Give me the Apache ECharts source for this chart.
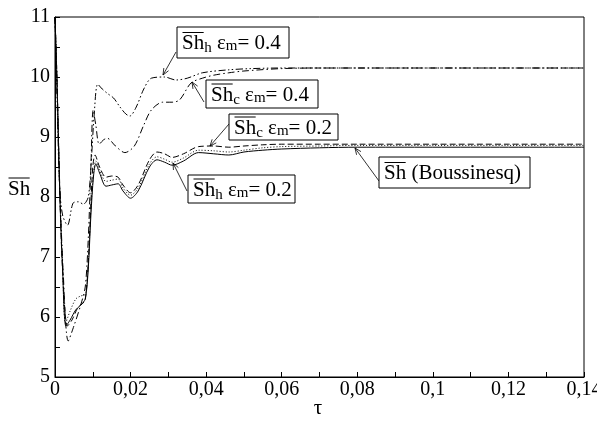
<!DOCTYPE html>
<html><head><meta charset="utf-8">
<script src="https://cdn.jsdelivr.net/npm/echarts@6/dist/echarts.min.js"></script>
<style>html,body{margin:0;padding:0;background:#fff}#c{width:597px;height:424px}</style>
</head><body><div id="c"></div>
<script>
// ---- data ----
const xTicks = [0, 0.02, 0.04, 0.06, 0.08, 0.1, 0.12, 0.14];
const yTicks = [5, 6, 7, 8, 9, 10, 11];

const tauBous = [0, 0.0005, 0.0013, 0.002, 0.0029, 0.004, 0.0055, 0.0068, 0.008, 0.0088, 0.0095, 0.0102, 0.0108, 0.0118, 0.0135, 0.015, 0.0167, 0.018, 0.02, 0.022, 0.025, 0.027, 0.029, 0.031, 0.034, 0.038, 0.042, 0.046, 0.05, 0.055, 0.06, 0.07, 0.08, 0.1, 0.12, 0.14];
const shBous  = [11.0, 10.0, 8.0, 6.8, 5.85, 5.95, 6.12, 6.2, 6.3, 6.8, 7.7, 8.35, 8.55, 8.4, 8.18, 8.2, 8.22, 8.1, 7.98, 8.1, 8.5, 8.62, 8.58, 8.53, 8.6, 8.74, 8.72, 8.7, 8.75, 8.78, 8.8, 8.82, 8.83, 8.83, 8.83, 8.83];

const tauH02 = [0, 0.0005, 0.0013, 0.002, 0.0028, 0.004, 0.0055, 0.0068, 0.008, 0.0088, 0.0095, 0.0102, 0.0108, 0.0118, 0.0135, 0.015, 0.0167, 0.018, 0.02, 0.022, 0.025, 0.027, 0.029, 0.031, 0.034, 0.038, 0.042, 0.046, 0.05, 0.055, 0.06, 0.07, 0.08, 0.1, 0.12, 0.14];
const shH02  = [11.0, 10.0, 8.0, 6.9, 5.9, 6.1, 6.3, 6.35, 6.38, 6.9, 7.8, 8.4, 8.6, 8.45, 8.26, 8.28, 8.3, 8.15, 8.03, 8.15, 8.55, 8.67, 8.63, 8.58, 8.65, 8.78, 8.77, 8.75, 8.78, 8.82, 8.84, 8.85, 8.86, 8.86, 8.86, 8.86];

const tauC02 = [0, 0.0005, 0.0013, 0.002, 0.0033, 0.0045, 0.006, 0.0072, 0.008, 0.0088, 0.0095, 0.01, 0.0106, 0.0118, 0.0135, 0.015, 0.0167, 0.018, 0.02, 0.022, 0.025, 0.027, 0.029, 0.031, 0.034, 0.038, 0.042, 0.046, 0.05, 0.055, 0.06, 0.07, 0.08, 0.1, 0.12, 0.14];
const shC02  = [11.0, 10.0, 8.0, 6.8, 5.85, 5.95, 6.15, 6.22, 6.28, 6.9, 7.9, 8.5, 8.7, 8.5, 8.33, 8.35, 8.33, 8.2, 8.07, 8.2, 8.62, 8.75, 8.72, 8.66, 8.72, 8.84, 8.85, 8.83, 8.85, 8.87, 8.88, 8.88, 8.88, 8.88, 8.88, 8.88];

const tauC04 = [0, 0.0006, 0.0012, 0.0022, 0.0035, 0.005, 0.0068, 0.008, 0.0088, 0.0095, 0.0101, 0.0108, 0.0117, 0.0128, 0.0138, 0.016, 0.0185, 0.021, 0.0235, 0.0255, 0.0285, 0.031, 0.033, 0.036, 0.039, 0.042, 0.046, 0.05, 0.06, 0.07, 0.08, 0.1, 0.12, 0.14];
const shC04  = [11.0, 9.8, 8.3, 6.7, 5.6, 5.85, 6.2, 6.5, 7.3, 8.5, 9.45, 9.2, 8.88, 8.95, 8.98, 8.85, 8.74, 8.85, 9.2, 9.45, 9.58, 9.58, 9.62, 9.9, 9.98, 10.03, 10.07, 10.1, 10.14, 10.15, 10.15, 10.15, 10.15, 10.15];

const tauH04 = [0, 0.0006, 0.0012, 0.002, 0.0033, 0.0048, 0.0062, 0.0075, 0.0088, 0.0096, 0.0104, 0.0113, 0.0125, 0.014, 0.0155, 0.0172, 0.0188, 0.0198, 0.0215, 0.0235, 0.0255, 0.029, 0.032, 0.035, 0.039, 0.046, 0.052, 0.06, 0.07, 0.08, 0.1, 0.12, 0.14];
const shH04  = [11.0, 9.5, 8.2, 7.7, 7.53, 7.9, 7.92, 7.88, 8.0, 8.6, 9.4, 9.88, 9.8, 9.72, 9.65, 9.5, 9.38, 9.35, 9.5, 9.8, 9.98, 10.0, 9.95, 9.98, 10.07, 10.12, 10.14, 10.15, 10.15, 10.15, 10.15, 10.15, 10.15];

const seriesNames = ['Sh (Boussinesq)', 'Sh_h εm=0.2', 'Sh_c εm=0.2', 'Sh_c εm=0.4', 'Sh_h εm=0.4'];

function pairs(t, v) { return t.map((x, i) => [x, v[i]]); }

const chart = echarts.init(document.getElementById('c'));
const FONT = "'Times New Roman', 'Liberation Serif', 'DejaVu Serif', serif";

const lineDefs = [
  { name: seriesNames[0], data: pairs(tauBous, shBous), type: 'solid' },
  { name: seriesNames[1], data: pairs(tauH02, shH02), type: [1, 2] },
  { name: seriesNames[2], data: pairs(tauC02, shC02), type: [6, 3] },
  { name: seriesNames[3], data: pairs(tauC04, shC04), type: [7, 3, 1.5, 3] },
  { name: seriesNames[4], data: pairs(tauH04, shH04), type: [7, 2.5, 1.5, 2.5, 1.5, 2.5] }
];

chart.setOption({
  animation: false,
  backgroundColor: '#fff',
  grid: { left: 55, right: 13, top: 17, bottom: 47, show: true, borderColor: '#000', borderWidth: 1, backgroundColor: 'transparent', outerBoundsMode: 'none', containLabel: false },
  xAxis: {
    type: 'value', min: xTicks[0], max: xTicks[xTicks.length - 1], interval: 0.02,
    axisLine: { lineStyle: { color: '#000', width: 1 } },
    axisTick: { inside: true, length: 5, lineStyle: { color: '#000' } },
    minorTick: { show: true, splitNumber: 2, length: 5, lineStyle: { color: '#000' } },
    splitLine: { show: false },
    axisLabel: { color: '#000', fontFamily: FONT, fontSize: 20, margin: 3, hideOverlap: false,
      formatter: v => String(+v.toFixed(2)).replace('.', ',') }
  },
  yAxis: {
    type: 'value', min: yTicks[0], max: yTicks[yTicks.length - 1], interval: 1,
    axisLine: { show: true, lineStyle: { color: '#000', width: 1 } },
    axisTick: { inside: true, length: 5, lineStyle: { color: '#000' } },
    minorTick: { show: true, splitNumber: 2, length: 5, lineStyle: { color: '#000' } },
    splitLine: { show: false },
    axisLabel: { color: '#000', fontFamily: FONT, fontSize: 20, margin: 5 }
  },
  series: lineDefs.map(d => ({
    type: 'line', name: d.name, data: d.data, symbol: 'none', smooth: 0.3, clip: true,
    lineStyle: { color: '#000', width: 1, type: d.type }
  }))
});

// ---- annotations (text boxes with arrows) ----
const annots = [
  { sub: 'h', val: '0.4', box: [177, 27, 112, 31], from: [176, 52], to: [163, 75] },
  { sub: 'c', val: '0.4', box: [206, 80, 112, 28], from: [204, 102], to: [192, 82] },
  { sub: 'c', val: '0.2', box: [229, 114, 109, 26], from: [229, 124], to: [210, 146] },
  { sub: 'h', val: '0.2', box: [188, 175, 107, 28], from: [187, 191], to: [173, 163] },
  { plain: ' (Boussinesq)', box: [379, 157, 151, 31], from: [379, 181], to: [355, 148] }
];

const cv = document.createElement('canvas').getContext('2d');
function w(txt, size) { cv.font = size + 'px ' + FONT; return cv.measureText(txt).width; }

const g = [];
annots.forEach(a => {
  const [bx, by, bw, bh] = a.box;
  g.push({ type: 'rect', shape: { x: bx, y: by, width: bw, height: bh }, style: { fill: '#fff', stroke: '#000', lineWidth: 1 }, z: 100 });
  const cy = by + bh / 2 + 1;
  let x = bx + 5;
  const pieces = a.plain
    ? [['Sh', 21, 0], [a.plain, 21, 0]]
    : [['Sh', 21, 0], [a.sub, 15, 5], [' ε', 21, 0], ['m', 15, 3], ['= ' + a.val, 21, 0]];
  pieces.forEach((p, i) => {
    g.push({ type: 'text', x: x, y: cy + p[2], z: 101,
      style: { text: p[0], font: p[1] + 'px ' + FONT, fill: '#000', verticalAlign: 'middle', align: 'left' } });
    if (i === 0) {
      g.push({ type: 'line', z: 101, shape: { x1: x + 0.5, y1: cy - 11, x2: x + w(p[0], p[1]) - 0.5, y2: cy - 11 }, style: { stroke: '#000', lineWidth: 1 } });
    }
    x += w(p[0], p[1]);
  });
  const [fx, fy] = a.from, [tx, ty] = a.to;
  g.push({ type: 'line', shape: { x1: fx, y1: fy, x2: tx, y2: ty }, style: { stroke: '#000', lineWidth: 0.8 }, z: 99 });
  const ang = Math.atan2(ty - fy, tx - fx), L = 7, s = 0.4;
  g.push({ type: 'polyline', z: 99, shape: { points: [
    [tx - L * Math.cos(ang - s), ty - L * Math.sin(ang - s)], [tx, ty],
    [tx - L * Math.cos(ang + s), ty - L * Math.sin(ang + s)] ] },
    style: { stroke: '#000', lineWidth: 0.8, fill: null } });
});

g.push({ type: 'text', x: 318, y: 408, style: { text: 'τ', font: '21px ' + FONT, fill: '#000', align: 'center', verticalAlign: 'middle' } });
g.push({ type: 'text', x: 8, y: 189, style: { text: 'Sh', font: '21px ' + FONT, fill: '#000', align: 'left', verticalAlign: 'middle' } });
g.push({ type: 'line', shape: { x1: 8.5, y1: 178, x2: 8 + w('Sh', 21) - 0.5, y2: 178 }, style: { stroke: '#000', lineWidth: 1 } });

chart.setOption({ graphic: g });
</script></body></html>
